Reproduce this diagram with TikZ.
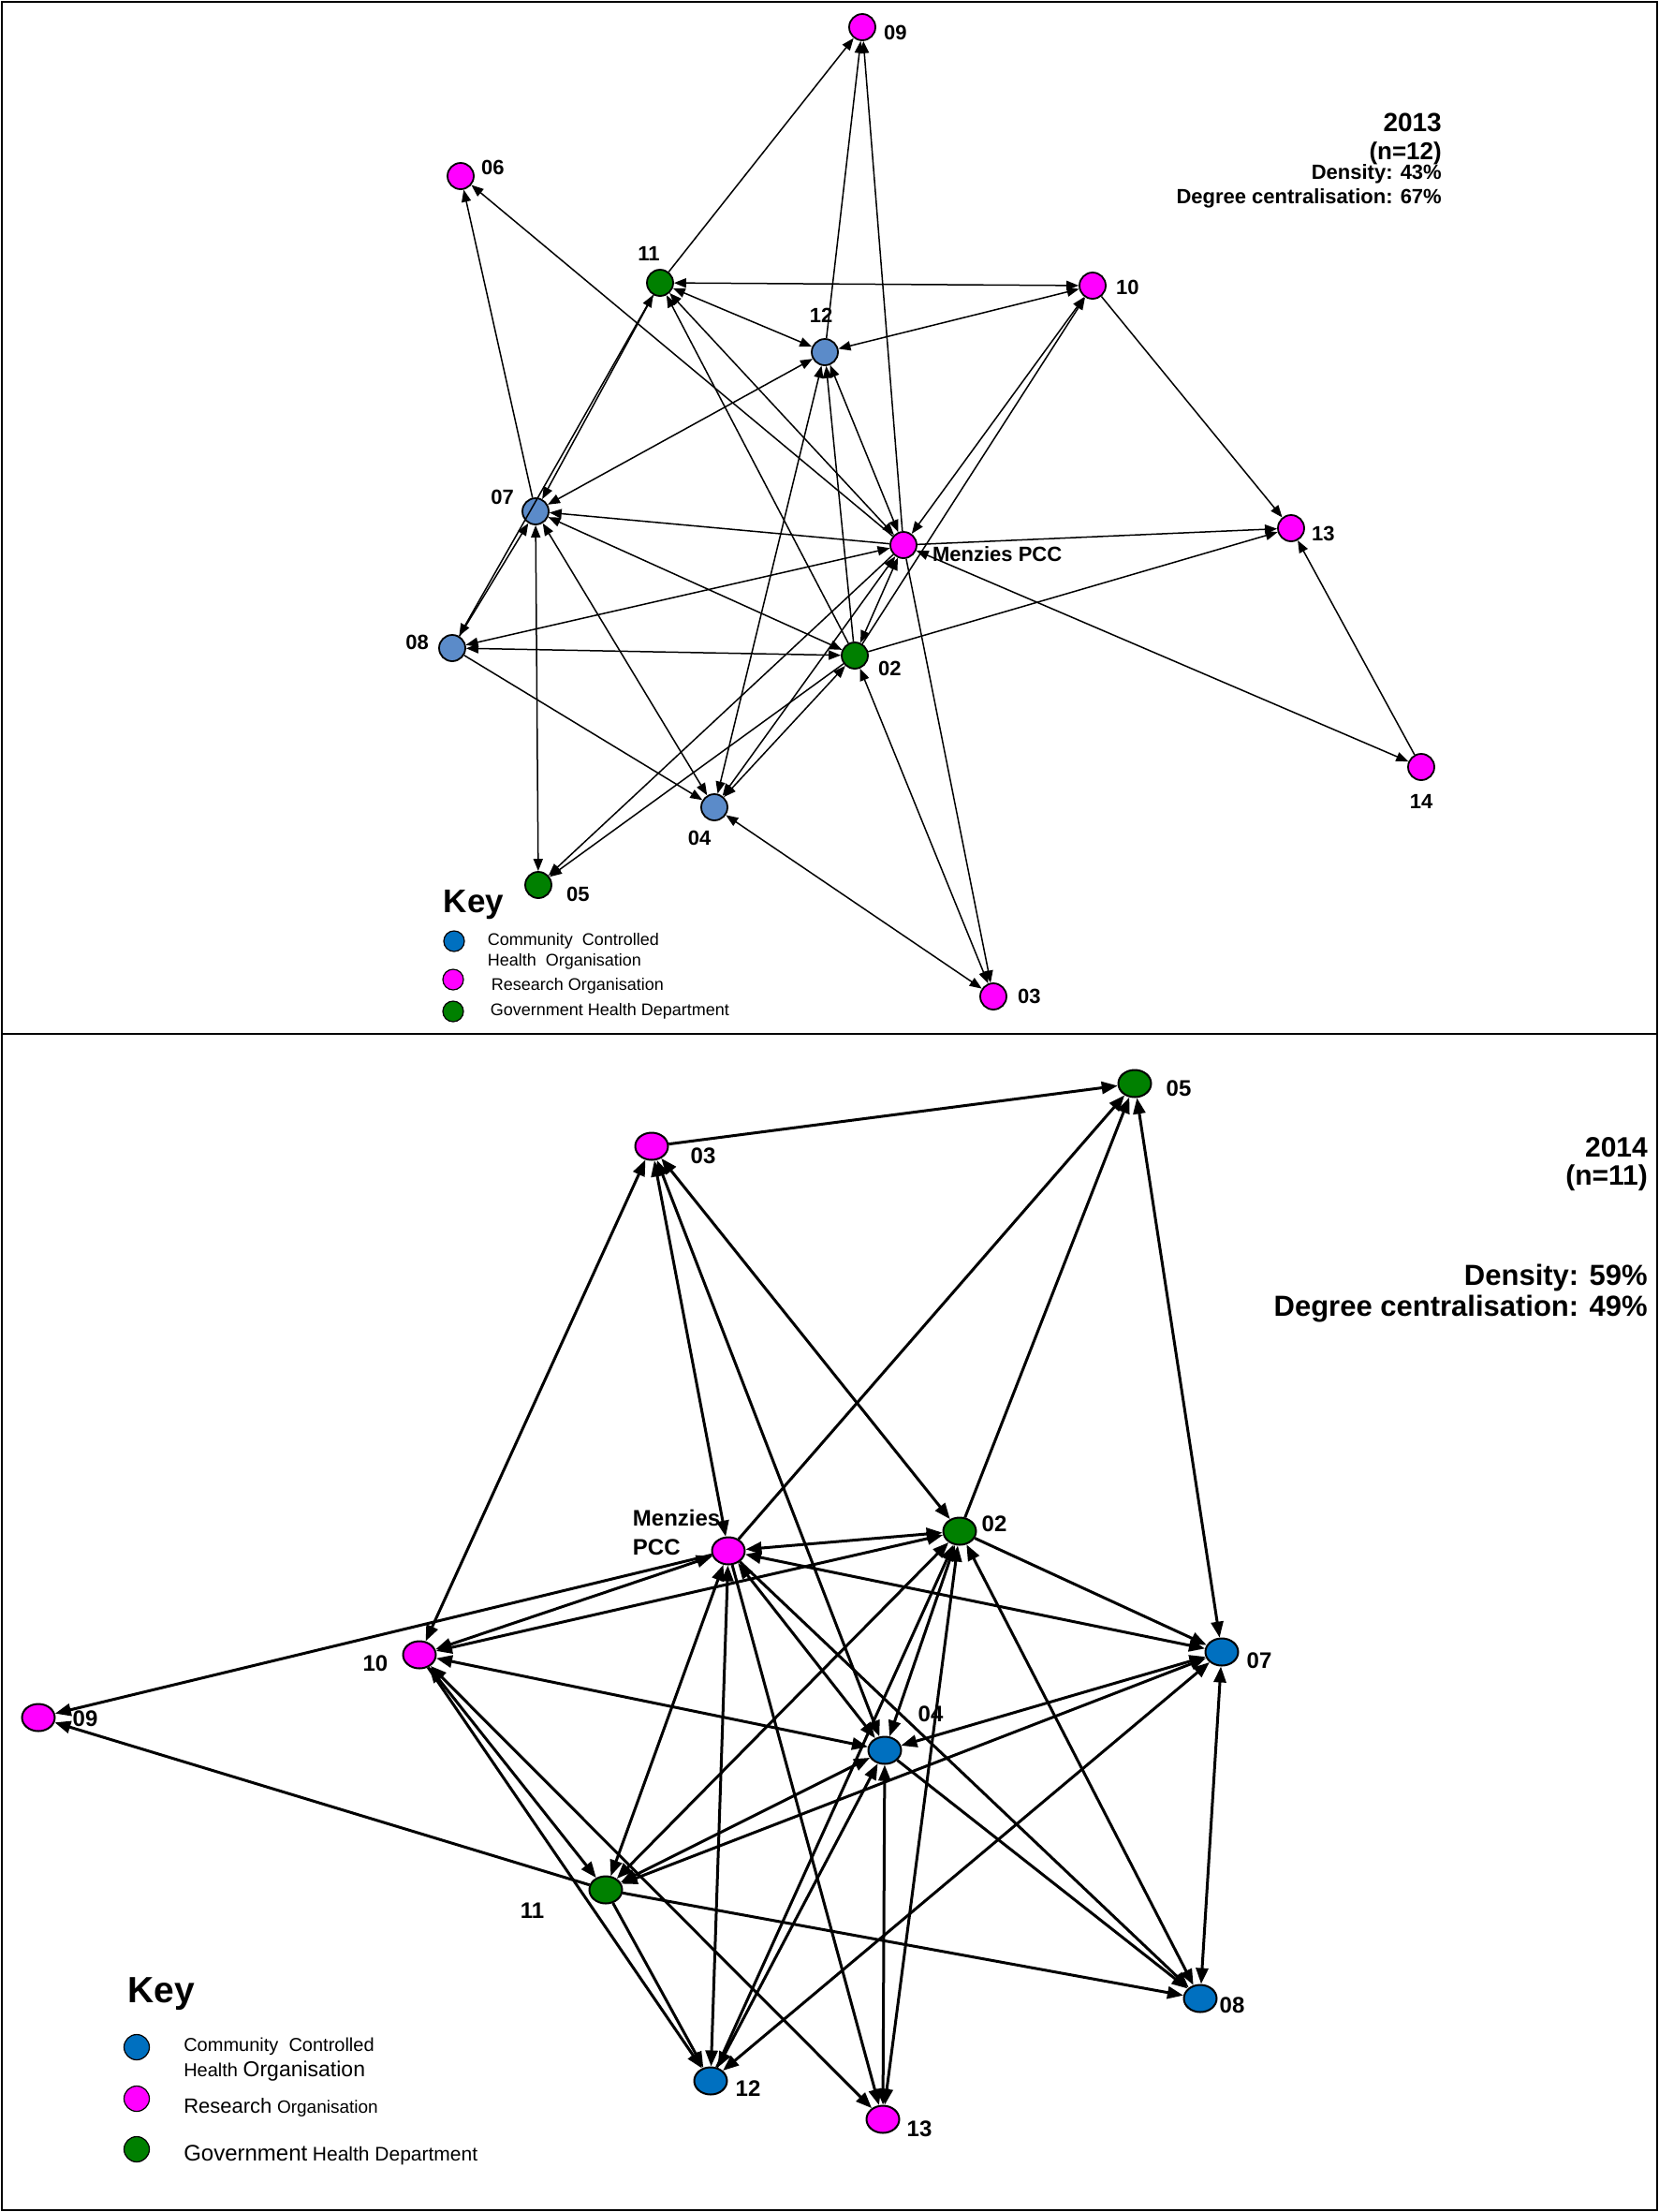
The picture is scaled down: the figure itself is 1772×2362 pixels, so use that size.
\documentclass[tikz,border=0pt]{standalone}
\usepackage{fontspec}
\setmainfont{Liberation Sans}
\usepackage{tikz}
\usetikzlibrary{arrows.meta, positioning, shapes.geometric}
\usepackage{xcolor}
\definecolor{cchoA}{HTML}{5B8BC9}
\definecolor{cchoB}{HTML}{0070C0}
\definecolor{resorg}{HTML}{FF00FF}
\definecolor{govdep}{HTML}{008000}
\newcommand{\fsz}[2]{\fontsize{#1}{#2}\selectfont}

\begin{document}
\begin{tikzpicture}[
  x=1pt, y=-1pt,
  frame/.style={draw, line width=2.5pt},
  nodeA/.style={circle, draw, line width=1.8pt, minimum size=28pt, inner sep=0pt},
  ccA/.style={nodeA, fill=cchoA},
  roA/.style={nodeA, fill=resorg},
  gdA/.style={nodeA, fill=govdep},
  nodeB/.style={ellipse, draw, line width=2pt, minimum width=35pt, minimum height=29pt, inner sep=0pt},
  ccB/.style={nodeB, fill=cchoB},
  roB/.style={nodeB, fill=resorg},
  gdB/.style={nodeB, fill=govdep},
  labA/.style={font=\fsz{22}{26}\bfseries, inner sep=0pt},
  labB/.style={font=\fsz{24}{31}\bfseries, inner sep=0pt},
  arrA/.style={-{Triangle[length=13pt, width=10pt]}, line width=1.5pt},
  arrAb/.style={{Triangle[length=13pt, width=10pt]}-{Triangle[length=13pt, width=10pt]}, line width=1.5pt},
  arrB/.style={-{Triangle[length=17pt, width=13pt]}, line width=3pt},
  arrBb/.style={{Triangle[length=17pt, width=13pt]}-{Triangle[length=17pt, width=13pt]}, line width=3pt},
  statA/.style={font=\fsz{28}{32}\bfseries, anchor=east, inner sep=0pt},
  statAs/.style={font=\fsz{22}{26}\bfseries, anchor=east, inner sep=0pt},
  statB/.style={font=\fsz{30}{34}\bfseries, anchor=east, inner sep=0pt},
  statBs/.style={font=\fsz{31}{35}\bfseries, anchor=east, inner sep=0pt},
  keyhead/.style={inner sep=0pt},
  keydot/.style={circle, draw, line width=1.2pt, inner sep=0pt},
  keytxtA/.style={align=left, inner sep=0pt, font=\fsz{18}{22}},
  keytxtB/.style={align=left, inner sep=0pt, font=\fsz{20}{27}},
]
\useasboundingbox (0,0) rectangle (1772,2362);

% ---- Panel frames ----
\draw[frame] (2,2) rectangle (1770,1104);
\draw[frame] (2,1104) rectangle (1770,2360);

% ---- 2013 network (top) ----
\node[roA] (a09) at (921,29) {};
\node[roA] (a06) at (492,188) {};
\node[gdA] (a11) at (705,302) {};
\node[roA] (a10) at (1167,305) {};
\node[ccA] (a12) at (881,376) {};
\node[ccA] (a07) at (572,546) {};
\node[roA] (amenz) at (965,582) {};
\node[roA] (a13) at (1379,564) {};
\node[ccA] (a08) at (483,692) {};
\node[gdA] (a02) at (913,700) {};
\node[roA] (a14) at (1518,819) {};
\node[ccA] (a04) at (763,862) {};
\node[gdA] (a05) at (575,945) {};
\node[roA] (a03) at (1061,1064) {};

% Ties both ways (2013)
\draw[arrAb] (a11) -- (a10);
\draw[arrAb] (a12) -- (a10);
\draw[arrAb] (a11) -- (a12);
\draw[arrAb] (a08) -- (a11);
\draw[arrAb] (a12) -- (a07);
\draw[arrAb] (a10) -- (amenz);
\draw[arrAb] (amenz) -- (a14);
\draw[arrAb] (amenz) -- (a08);
\draw[arrAb] (a02) -- (a08);
\draw[arrAb] (a07) -- (a02);
\draw[arrAb] (a07) -- (a05);
\draw[arrAb] (a07) -- (a04);
\draw[arrAb] (a02) -- (a03);
\draw[arrAb] (a04) -- (a03);
\draw[arrAb] (amenz) -- (a02);
\draw[arrAb] (a02) -- (a04);
\draw[arrAb] (amenz) -- (a04);
\draw[arrAb] (a12) -- (a04);
\draw[arrAb] (a12) -- (amenz);
\draw[arrAb] (a11) -- (amenz);

% Ties one way (2013)
\draw[arrA] (a11) -- (a09);
\draw[arrA] (a12) -- (a09);
\draw[arrA] (amenz) -- (a09);
\draw[arrA] (a07) -- (a06);
\draw[arrA] (amenz) -- (a06);
\draw[arrA] (a11) -- (a07);
\draw[arrA] (a02) -- (a11);
\draw[arrA] (a02) -- (a12);
\draw[arrA] (a02) -- (a10);
\draw[arrA] (a10) -- (a13);
\draw[arrA] (amenz) -- (a13);
\draw[arrA] (a02) -- (a13);
\draw[arrA] (a14) -- (a13);
\draw[arrA] (amenz) -- (a07);
\draw[arrA] (a08) -- (a07);
\draw[arrA] (a08) -- (a04);
\draw[arrA] (amenz) -- (a03);
\draw[arrA] (amenz) -- (a05);
\draw[arrA] (a02) -- (a05);

% Labels (2013)
\node[labA, right=8pt of a09, yshift=-6pt] (a09l) {09};
\node[labA, right=7pt of a06, yshift=9pt] (a06l) {06};
\node[labA, above=8pt of a11, xshift=-12pt] (a11l) {11};
\node[labA, above=16pt of a12, xshift=-4pt] (a12l) {12};
\node[labA, left=8pt of a07, yshift=15pt] (a07l) {07};
\node[labA, right=16pt of amenz, yshift=-10pt] (amenzl) {Menzies PCC};
\node[labA, left=10pt of a08, yshift=6pt] (a08l) {08};
\node[labA, right=10pt of a02, yshift=-14pt] (a02l) {02};
\node[labA, below=10pt of a04, xshift=-16pt] (a04l) {04};
\node[labA, right=15pt of a05, yshift=-10pt] (a05l) {05};
\node[labA, right=11pt of a03] (a03l) {03};
\node[labA, right=10pt of a10, yshift=-2pt] (a10l) {10};
\node[labA, right=7pt of a13, yshift=-6pt] (a13l) {13};
\node[labA, below=14pt of a14] (a14l) {14};

% Figures (2013)
\node[statA] (ayear) at (1540,131) {2013};
\node[statA, font=\fsz{26}{30}\bfseries] (an) at (1540,164) {(n=12)};
\node[statAs] (adens) at (1540,186) {Density: 43\%};
\node[statAs] (adeg) at (1540,212) {Degree centralisation: 67\%};

% Key (2013)
\node[keyhead, font=\fsz{35}{40}\bfseries] (akey) at (506,966) {Key};
\node[keydot, fill=cchoB, minimum size=22pt] (akeycc) at (485,1005) {};
\node[keydot, fill=resorg, minimum size=22pt] (akeyro) at (484,1046) {};
\node[keydot, fill=govdep, minimum size=22pt] (akeygd) at (484,1080) {};
\node[keytxtA, right=24pt of akeycc, yshift=-11pt] (akeycct) {Community\ \ Controlled\\Health\ \ Organisation};
\node[keytxtA, right=29pt of akeyro, yshift=-7pt] (akeyrot) {Research Organisation};
\node[keytxtA, right=28pt of akeygd] (akeygdt) {Government Health Department};

% ---- 2014 network (bottom) ----
\node[gdB] (b05) at (1212,1157) {};
\node[roB] (b03) at (696,1224) {};
\node[roB] (bmenz) at (778,1656) {};
\node[gdB] (b02) at (1025,1635) {};
\node[roB] (b10) at (448,1767) {};
\node[ccB] (b07) at (1305,1764) {};
\node[roB] (b09) at (41,1834) {};
\node[ccB] (b04) at (945,1869) {};
\node[gdB] (b11) at (647,2018) {};
\node[ccB] (b08) at (1282,2134) {};
\node[ccB] (b12) at (759,2222) {};
\node[roB] (b13) at (943,2263) {};

% Ties both ways (2014)
\draw[arrBb] (b03) -- (b10);
\draw[arrBb] (b03) -- (bmenz);
\draw[arrBb] (b03) -- (b04);
\draw[arrBb] (b03) -- (b02);
\draw[arrBb] (b05) -- (b07);
\draw[arrBb] (bmenz) -- (b02);
\draw[arrBb] (bmenz) -- (b07);
\draw[arrBb] (bmenz) -- (b10);
\draw[arrBb] (bmenz) -- (b11);
\draw[arrBb] (bmenz) -- (b12);
\draw[arrBb] (bmenz) -- (b04);
\draw[arrBb] (b02) -- (b10);
\draw[arrBb] (b02) -- (b11);
\draw[arrBb] (b02) -- (b04);
\draw[arrBb] (b02) -- (b13);
\draw[arrBb] (b02) -- (b08);
\draw[arrBb] (b10) -- (b04);
\draw[arrBb] (b10) -- (b11);
\draw[arrBb] (b10) -- (b13);
\draw[arrBb] (b07) -- (b04);
\draw[arrBb] (b07) -- (b11);
\draw[arrBb] (b07) -- (b12);
\draw[arrBb] (b07) -- (b08);
\draw[arrBb] (b04) -- (b11);
\draw[arrBb] (b04) -- (b12);
\draw[arrBb] (b04) -- (b13);

% Ties one way (2014)
\draw[arrB] (b03) -- (b05);
\draw[arrB] (bmenz) -- (b05);
\draw[arrB] (b02) -- (b05);
\draw[arrB] (bmenz) -- (b09);
\draw[arrB] (bmenz) -- (b13);
\draw[arrB] (bmenz) -- (b08);
\draw[arrB] (b02) -- (b07);
\draw[arrB] (b12) -- (b02);
\draw[arrB] (b10) -- (b12);
\draw[arrB] (b04) -- (b08);
\draw[arrB] (b11) -- (b12);
\draw[arrB] (b11) -- (b08);
\draw[arrB] (b11) -- (b09);

% Labels (2014)
\node[labB, right=15pt of b05, yshift=-5pt] (b05l) {05};
\node[labB, right=23pt of b03, yshift=-10pt] (b03l) {03};
\node[labB, align=left, left=-10pt of bmenz, yshift=20pt] (bmenzl) {Menzies\\PCC};
\node[labB, right=5pt of b02, yshift=8pt] (b02l) {02};
\node[labB, left=15pt of b10, yshift=-9pt] (b10l) {10};
\node[labB, right=8pt of b07, yshift=-9pt] (b07l) {07};
\node[labB, right=18pt of b09, yshift=-1pt] (b09l) {09};
\node[labB, right=17pt of b04, yshift=39pt] (b04l) {04};
\node[labB, left=47pt of b11, yshift=-22pt] (b11l) {11};
\node[labB, right=2pt of b08, yshift=-7pt] (b08l) {08};
\node[labB, right=8pt of b12, yshift=-8pt] (b12l) {12};
\node[labB, right=7pt of b13, yshift=-10pt] (b13l) {13};

% Figures (2014)
\node[statB] (byear) at (1760,1225) {2014};
\node[statB] (bn) at (1760,1258) {(n=11)};
\node[statBs] (bdens) at (1760,1364) {Density: 59\%};
\node[statBs] (bdeg) at (1760,1398) {Degree centralisation: 49\%};

% Key (2014)
\node[keyhead, font=\fsz{39}{44}\bfseries] (bkey) at (172,2129) {Key};
\node[keydot, fill=cchoB, minimum size=27pt] (bkeycc) at (146,2186) {};
\node[keydot, fill=resorg, minimum size=27pt] (bkeyro) at (146,2241) {};
\node[keydot, fill=govdep, minimum size=27pt] (bkeygd) at (146,2295) {};
\node[keytxtB, right=36pt of bkeycc, yshift=-13pt] (bkeycct) {Community\ \ Controlled\\Health {\fsz{23}{27}Organisation}};
\node[keytxtB, right=36pt of bkeyro, yshift=-9pt] (bkeyrot) {{\fsz{22}{27}Research} {\fsz{19}{27}Organisation}};
\node[keytxtB, right=36pt of bkeygd, yshift=-6pt] (bkeygdt) {{\fsz{24}{27}Government} {\fsz{21}{27}Health Department}};

\end{tikzpicture}
\end{document}
